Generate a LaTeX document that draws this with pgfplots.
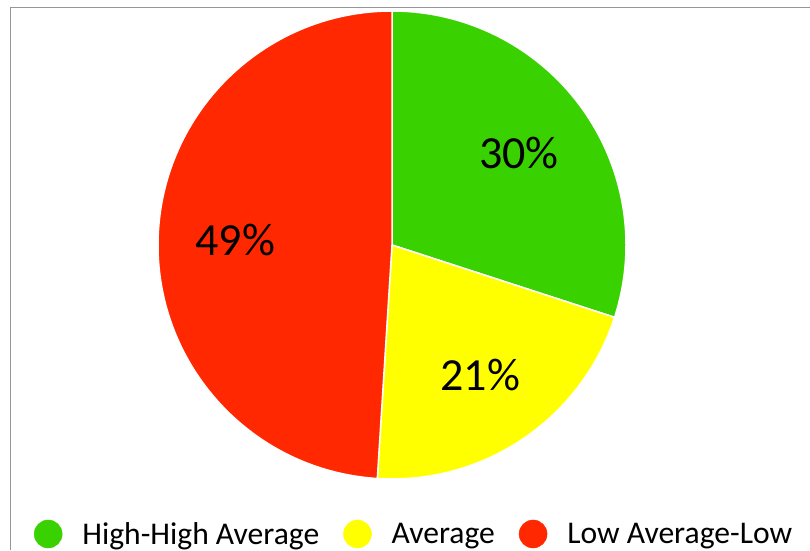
\documentclass[border=0pt]{standalone}
\usepackage{pgfplots}
\usepackage{pgfplotstable}
\pgfplotsset{compat=1.18}
\usepackage{fontspec}
\setmainfont{Carlito}

\definecolor{piegreen}{RGB}{57,210,0}
\definecolor{pieyellow}{RGB}{255,255,0}
\definecolor{piered}{RGB}{255,40,0}
\definecolor{framegray}{RGB}{150,150,150}
\colorlet{piecol0}{piegreen}
\colorlet{piecol1}{pieyellow}
\colorlet{piecol2}{piered}

% shares of the three groups, in percent
\pgfplotstableread[col sep=comma]{
label,share
High-High Average,30
Average,21
Low Average-Low,49
}\piedata
% running total, used for the wedge angles
\pgfplotstablecreatecol[create col/expr accum={\pgfmathaccuma+\thisrow{share}}{0}]{cum}\piedata

\newcommand\pielabelfont{\fontsize{46}{50}\selectfont}

\begin{document}
\begin{tikzpicture}[x=1pt,y=1pt]
\useasboundingbox (0,0) rectangle (810,550);
\clip (0,0) rectangle (810,550);
\draw[framegray, line width=1pt] (10.5,0) -- (10.5,542.5) -- (812,542.5);
\begin{axis}[
  at={(392pt,305pt)}, anchor=center,
  scale only axis, width=468pt, height=468pt,
  xmin=-1, xmax=1, ymin=-1, ymax=1,
  hide axis, clip=false,
  legend columns=3,
  legend cell align=left,
  legend style={at={(axis description cs:-0.265,-0.1175)}, anchor=west,
    draw=none, fill=none, inner sep=0pt, outer sep=0pt,
    font=\fontsize{31.6}{36}\selectfont, nodes={inner sep=0pt},
    /tikz/every odd column/.append style={column sep=20pt},
    /tikz/every even column/.append style={column sep=24pt}},
  legend image code/.code={\fill[#1] (14pt,0pt) circle[radius=14pt];},
]
\pgfplotsinvokeforeach{0,1,2}{
  \pgfplotstablegetelem{#1}{share}\of\piedata \let\pieshare\pgfplotsretval
  \pgfplotstablegetelem{#1}{cum}\of\piedata \let\piecum\pgfplotsretval
  \pgfmathsetmacro\aS{90-3.6*(\piecum-\pieshare)}
  \pgfmathsetmacro\aE{90-3.6*\piecum}
  \pgfmathsetmacro\aM{(\aS+\aE)/2}
  \edef\piecmd{%
    \noexpand\filldraw[fill=piecol#1, draw=white, line width=1.5pt, line join=round]
      (axis cs:0,0) -- (axis cs:{cos(\aS)},{sin(\aS)})
      arc[start angle=\aS, end angle=\aE, radius=234pt] -- cycle;
    \noexpand\node[font=\noexpand\pielabelfont]
      at (axis cs:{0.67*cos(\aM)},{0.67*sin(\aM)}) {\pieshare\noexpand\%};
  }
  \piecmd
  \pgfplotstablegetelem{#1}{label}\of\piedata
  \addlegendimage{piecol#1}
  \addlegendentryexpanded{\pgfplotsretval}
}
\end{axis}
\end{tikzpicture}
\end{document}
